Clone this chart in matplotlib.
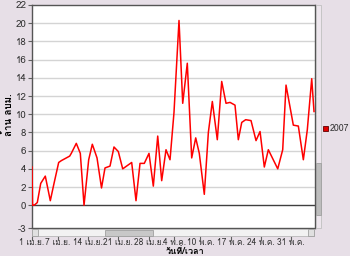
import matplotlib
matplotlib.use('Agg')
import matplotlib.pyplot as plt
from matplotlib import font_manager
from matplotlib.ft2font import FT2Font
from matplotlib.patches import Rectangle


# find a font that has Thai glyphs
def find_thai_font():
    for f in font_manager.fontManager.ttflist:
        try:
            cmap = FT2Font(f.fname).get_charmap()
        except Exception:
            continue
        if 0x0E27 in cmap and 0x0E25 in cmap and 0x0E1A in cmap:
            return f.name
    return 'DejaVu Sans'


thai = find_thai_font()
plt.rcParams['font.family'] = [thai, 'DejaVu Sans']

# days since 1 Apr 2007 and volume (million m3)
days = [0.0, 0.12, 0.63, 1.23, 2.02, 3.08, 4.24, 5.10, 6.18, 6.79, 8.73, 9.10,
        10.26, 11.19, 12.05, 13.13, 13.97, 15.06, 16.10, 16.91, 18.07, 18.99,
        19.99, 21.01, 23.09, 24.09, 25.02, 26.01, 27.10, 28.10, 29.12, 30.04,
        31.04, 31.97, 32.89, 34.05, 34.91, 35.97, 36.99, 37.92, 38.75, 39.91,
        40.85, 41.77, 42.92, 43.94, 44.94, 45.87, 47.02, 47.79, 48.58, 49.50,
        50.73, 51.89, 52.82, 53.81, 54.74, 56.92, 58.07, 58.84, 60.53, 61.69,
        62.85, 63.77, 64.79, 65.32]
vol_2007 = [4.2, 0.0, 0.05, 0.3, 2.4, 3.2, 0.5, 2.4, 4.7, 4.9, 5.4, 5.7,
            6.8, 5.7, 0.0, 5.0, 6.7, 5.2, 1.9, 4.1, 4.3, 6.4,
            5.9, 4.0, 4.7, 0.5, 4.6, 4.6, 5.7, 2.1, 7.6, 2.7,
            6.1, 5.0, 10.2, 20.3, 11.2, 15.6, 5.2, 7.4, 5.7, 1.2,
            8.0, 11.4, 7.2, 13.6, 11.2, 11.3, 11.0, 7.2, 9.1, 9.4,
            9.3, 7.1, 8.1, 4.2, 6.1, 4.0, 6.1, 13.2, 8.8, 8.7,
            5.0, 8.3, 13.9, 10.3]

tick_days = [0, 6, 13, 20, 27, 33, 39, 46, 53, 60]
tick_labels = ['1 เม.ย.', '7 เม.ย.', '14 เม.ย.', '21 เม.ย.', '28 เม.ย.',
               '4 พ.ค.', '10 พ.ค.', '17 พ.ค.', '24 พ.ค.', '31 พ.ค.']
ytick_vals = [-2.5, 0, 2, 4, 6, 8, 10, 12, 14, 16, 18, 20, 22]
ytick_labels = ['-3', '0', '2', '4', '6', '8', '10', '12', '14', '16', '18', '20', '22']

W, H = 350, 256
bg = '#E7DFE7'

fig = plt.figure(figsize=(W / 100, H / 100), dpi=100, facecolor=bg)
# axes in pixel terms: x 32..315, y 5..228
ax = fig.add_axes([32 / W, (H - 228) / H, (315 - 32) / W, (228 - 5) / H])
ax.set_facecolor('white')

ax.plot(days, vol_2007, color='#FF0000', lw=1.1, zorder=3)

ax.set_xlim(0, 65.55)
ax.set_ylim(-2.5, 22)
for v in ytick_vals[2:-1]:
    ax.axhline(v, color='#D4D4D4', lw=1, zorder=1)
ax.axhline(0, color='#404040', lw=1, zorder=2)

ax.set_yticks(ytick_vals)
ax.set_yticklabels(ytick_labels)
ax.set_xticks(tick_days)
ax.set_xticklabels(tick_labels)
ax.tick_params(axis='y', length=3, width=0.8, color='#606060', labelsize=7,
               labelcolor='#333333', pad=1)
ax.tick_params(axis='x', length=0, labelsize=6, labelcolor='#333333', pad=7.5)

for s in ax.spines.values():
    s.set_color('#555555')
    s.set_linewidth(1)

fig.text(185 / W, 1 - 251 / H, 'วันที่/เวลา', fontsize=6.5, fontweight='bold',
         ha='center', va='center')
fig.text(8 / W, 1 - 115 / H, 'ล้าน ลบม.', rotation=90, fontsize=7,
         fontweight='bold', ha='center', va='center')


# horizontal scrollbar
def px_rect(x0, y0, x1, y1, **kw):
    fig.add_artist(Rectangle((x0 / W, 1 - y1 / H), (x1 - x0) / W, (y1 - y0) / H,
                             transform=fig.transFigure, **kw))


px_rect(32, 229, 314, 236, facecolor='#F2F2F2', edgecolor='#B8B8B8', lw=0.6)
px_rect(105, 229.5, 153, 235.5, facecolor='#C8C8C8', edgecolor='#A0A0A0', lw=0.6)
px_rect(32, 229, 38, 236, facecolor='#E0E0E0', edgecolor='#A0A0A0', lw=0.6)
px_rect(308, 229, 314, 236, facecolor='#E0E0E0', edgecolor='#A0A0A0', lw=0.6)
# x tick marks below scrollbar
for d in tick_days:
    xp = 32 + d * 4.317
    fig.add_artist(plt.Line2D([xp / W, xp / W], [1 - 237 / H, 1 - 239.5 / H],
                              transform=fig.transFigure, color='#606060', lw=0.8))

# vertical scrollbar
px_rect(316, 5, 321, 228, facecolor='#EDE6ED', edgecolor='#C0C0C0', lw=0.6)
px_rect(316, 163, 321, 215, facecolor='#BDBDBD', edgecolor='#A0A0A0', lw=0.6)

# legend
px_rect(323, 126, 328, 131, facecolor='#E00000', edgecolor='#600000', lw=0.6)
fig.text(329.5 / W, 1 - 128.5 / H, '2007', fontsize=6.3, color='#333333',
         ha='left', va='center')

fig.savefig('out.png', dpi=100, facecolor=bg)
